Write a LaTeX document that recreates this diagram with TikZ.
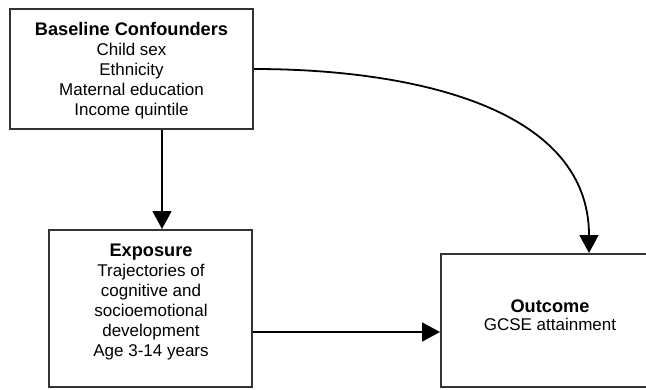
\documentclass[tikz,border=0pt]{standalone}
\usepackage{fontspec}
\setmainfont{Liberation Sans}
\usepackage{tikz}
\usetikzlibrary{positioning, arrows.meta, calc}

\newcommand{\boxtitle}[1]{{\fontsize{18.2}{20}\selectfont\bfseries #1}}

\begin{document}
\begin{tikzpicture}[x=1pt, y=-1pt,
    box/.style={draw=black!80, line width=2pt, inner sep=0pt},
    lbl/.style={align=center, font=\fontsize{17}{20}\selectfont},
    arr/.style={line width=1.8pt, -{Triangle[length=18pt, width=19pt]}}]
        % Frame: 646 x 389, outcome box runs off the right edge
        \clip (0,0) rectangle (646,389);
        % Boxes
        \node[box, minimum width=243pt, minimum height=120pt] (conf) at (131.5,69) {};
        \node[box, minimum width=203pt, minimum height=157pt] (expo) at (150.5,308.5) {};
        \node[box, minimum width=208pt, minimum height=133pt] (outc) at (545,320.5) {};
        % Box texts
        \node[lbl] (conflbl) at (131.5,71) {\boxtitle{Baseline Confounders}\\Child sex\\Ethnicity\\Maternal education\\Income quintile};
        \node[lbl] (expolbl) at (151,302) {\boxtitle{Exposure}\\Trajectories of\\cognitive and\\socioemotional\\development\\Age 3-14 years};
        \node[lbl] (outclbl) at (550,315) {\boxtitle{Outcome}\\[-2pt]GCSE attainment};
        % Paths
        \draw[arr] ([xshift=30.5pt]conf.south) -- ([xshift=30.5pt]conf.south |- expo.north);
        \draw[arr] ([yshift=-23.5pt]expo.east) -- ([yshift=-23.5pt]expo.east -| outc.west);
        \draw[arr] (conf.east) to[out=0, in=90] ([xshift=44pt]outc.north);
      \end{tikzpicture}
\end{document}
